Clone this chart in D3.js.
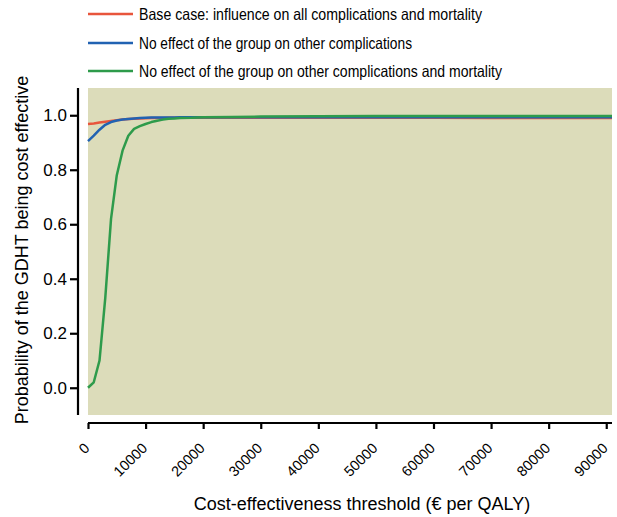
<!DOCTYPE html>
<html><head><meta charset="utf-8">
<script src="https://cdn.jsdelivr.net/npm/d3@7/dist/d3.min.js"></script>
<style>body{margin:0;background:#fff}svg{display:block}text{font-family:"Liberation Sans",Arial,sans-serif}</style>
</head><body>
<svg id="c" width="617" height="517"></svg>
<script>
const thresholds = [0,1000,2000,3000,4000,5000,6000,7000,8000,9000,10000,11000,12000,13000,14000,15000,16000,18000,20000,25000,30000,40000,50000,60000,70000,80000,91000];
const baseCase   = [0.968,0.970,0.973,0.976,0.979,0.982,0.984,0.986,0.987,0.988,0.989,0.990,0.990,0.990,0.991,0.991,0.991,0.991,0.991,0.991,0.991,0.991,0.991,0.991,0.990,0.990,0.990];
const noEffComp  = [0.905,0.925,0.947,0.965,0.975,0.981,0.984,0.986,0.988,0.990,0.991,0.992,0.992,0.992,0.992,0.992,0.993,0.993,0.993,0.993,0.993,0.993,0.993,0.993,0.993,0.993,0.993];
const noEffMort  = [0.000,0.020,0.100,0.330,0.620,0.780,0.870,0.925,0.950,0.960,0.968,0.975,0.980,0.984,0.987,0.988,0.990,0.991,0.993,0.994,0.995,0.996,0.997,0.997,0.997,0.997,0.997];
const seriesNames = ["Base case: influence on all complications and mortality","No effect of the group on other complications","No effect of the group on other complications and mortality"];
const seriesColors = ["#e8553c","#2162b2","#2e9b4b"];
const xTicks = [0,10000,20000,30000,40000,50000,60000,70000,80000,90000];
const yTicks = [0.0,0.2,0.4,0.6,0.8,1.0];

const svg = d3.select("#c");
const x = d3.scaleLinear().domain([0,91000]).range([88,612]);
const y = d3.scaleLinear().domain([-0.1,1.1]).range([415,88]);

svg.append("rect").attr("x",88).attr("y",88).attr("width",524).attr("height",327).attr("fill","#dcdcba");

const series=[baseCase,noEffComp,noEffMort];
const line = d3.line().x((d,i)=>x(thresholds[i])).y(d=>y(d));
[0,1,2].forEach(k=>{
  svg.append("path").datum(series[k]).attr("d",line).attr("fill","none")
    .attr("stroke",seriesColors[k]).attr("stroke-width",2.5).attr("stroke-linejoin","round");
});

// y axis
const ya = svg.append("g").attr("transform","translate(78,0)")
  .call(d3.axisLeft(y).tickValues(yTicks).tickFormat(d3.format(".1f")).tickSize(8).tickPadding(3));
ya.select(".domain").attr("d","M0,88V415").attr("stroke","#000").attr("stroke-width",2.2);
ya.selectAll(".tick line").attr("stroke-width",2.2);
ya.selectAll(".tick text").attr("font-size",17).attr("fill","#000").style("font-family","Liberation Sans, Arial, sans-serif");

// x axis
const xa = svg.append("g").attr("transform","translate(0,423)")
  .call(d3.axisBottom(x).tickValues(xTicks).tickFormat(d3.format("d")).tickSize(6));
xa.select(".domain").attr("d","M88,0H612").attr("stroke","#000").attr("stroke-width",2.2);
xa.selectAll(".tick line").attr("stroke-width",2.2);
xa.selectAll(".tick text").attr("font-size",14.5).attr("fill","#000").style("font-family","Liberation Sans, Arial, sans-serif")
  .attr("text-anchor","end").attr("dy",null).attr("y",null)
  .attr("transform","translate(2,26) rotate(-45)");

svg.append("text").attr("x",362).attr("y",510).attr("text-anchor","middle").attr("font-size",18)
  .text("Cost-effectiveness threshold (€ per QALY)");
svg.append("text").attr("transform","translate(28,250) rotate(-90)").attr("text-anchor","middle").attr("font-size",18)
  .text("Probability of the GDHT being cost effective");

// legend
const legY=[14,43,71];
const legW=[343,273,363];
seriesNames.forEach((n,i)=>{
  svg.append("line").attr("x1",88).attr("x2",133).attr("y1",legY[i]).attr("y2",legY[i]).attr("stroke",seriesColors[i]).attr("stroke-width",2.5);
  svg.append("text").attr("x",139).attr("y",legY[i]+6).attr("font-size",16.5)
    .attr("textLength",legW[i]).attr("lengthAdjust","spacingAndGlyphs").text(n);
});
</script>
</body></html>
